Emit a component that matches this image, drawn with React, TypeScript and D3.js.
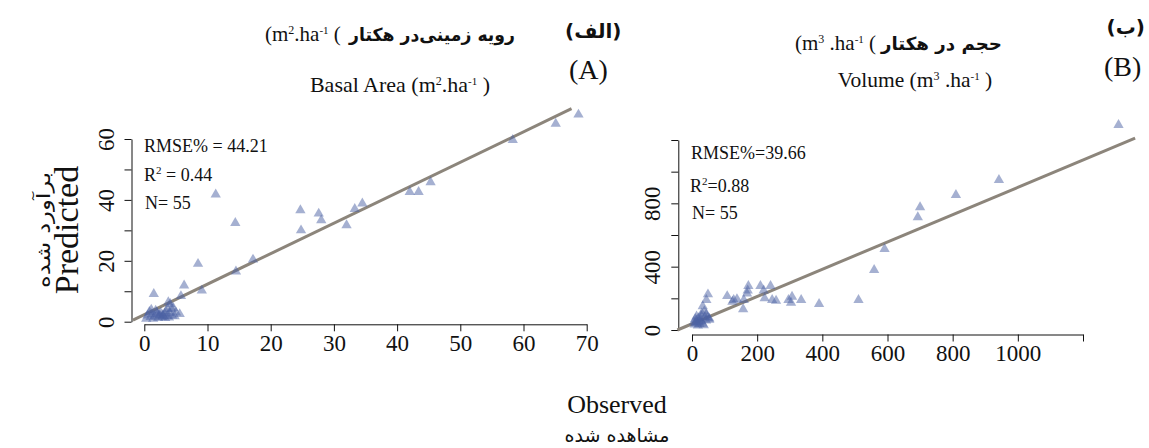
import React, { useEffect, useRef } from "react";
import * as d3 from "d3";

// [observed, predicted] pairs
const basalPoints: [number, number][] = [
  [68.7, 68.0], [65.1, 65.0], [58.3, 59.7], [45.3, 45.8], [43.4, 42.6], [42.0, 42.6],
  [34.5, 38.8], [33.3, 37.0], [32.0, 31.7], [28.0, 33.3], [27.6, 35.5], [24.7, 36.6],
  [24.8, 30.0], [17.2, 20.4], [14.5, 16.5], [14.4, 32.4], [11.3, 41.8], [9.1, 10.2],
  [8.5, 19.0], [6.3, 11.9], [5.8, 8.4], [5.6, 2.5], [1.5, 9.1], [3.8, 6.4], [4.3, 4.2],
  [0.8, 3.2], [1.2, 2.5], [1.6, 1.8], [2.0, 3.0], [2.4, 2.2], [2.8, 1.5], [3.2, 2.6],
  [3.6, 1.9], [4.0, 2.8], [4.6, 4.5], [1.0, 1.5], [1.8, 3.6], [2.2, 1.2], [2.6, 2.9],
  [3.0, 1.8], [3.4, 3.4], [3.9, 1.4], [4.4, 2.0], [5.0, 3.0], [0.5, 2.0], [1.4, 1.0],
  [2.1, 2.4], [2.9, 2.1], [3.3, 1.2], [3.7, 4.2], [4.8, 1.8], [1.1, 3.9], [2.5, 1.7],
  [4.1, 5.8], [0.3, 1.0],
];

const volumePoints: [number, number][] = [
  [1309, 1295], [942, 948], [810, 853], [700, 775], [693, 712], [591, 512], [559, 379],
  [511, 189], [390, 164], [335, 189], [307, 210], [296, 189], [304, 172], [246, 189],
  [258, 185], [241, 278], [210, 278], [220, 250], [223, 200], [173, 278], [171, 250],
  [169, 230], [157, 131], [159, 189], [128, 189], [108, 214], [124, 178], [138, 195],
  [49, 225], [44, 189], [33, 150], [38, 118], [44, 100], [40, 82], [53, 72], [28, 90],
  [20, 75], [13, 60], [16, 45], [23, 38], [28, 55], [10, 70], [6, 50], [18, 28],
  [33, 40], [26, 68], [43, 60], [8, 35], [36, 30], [14, 85], [48, 78], [22, 52],
  [30, 105], [53, 65], [12, 42],
];

// fitted lines: [x start, x end, slope, intercept]
const basalFit = [-1.8, 67.6, 1.0, 2.35];
const volumeFit = [-45, 1360, 0.862, 38.8];

const basalXTicks = [0, 10, 20, 30, 40, 50, 60, 70];
const basalYTicks = [0, 10, 20, 30, 40, 50, 60];
const basalYLabels = [0, 20, 40, 60];
const volumeXTicks = [0, 200, 400, 600, 800, 1000, 1200];
const volumeXLabels = [0, 200, 400, 600, 800, 1000];
const volumeYTicks = [0, 200, 400, 600, 800, 1000, 1200];
const volumeYLabels = [0, 400, 800];

const serif = "'Liberation Serif', 'Times New Roman', serif";
const persian = "'DejaVu Sans', 'Noto Sans', sans-serif";

const Panels = () => {
  const ref = useRef<SVGSVGElement>(null);

  useEffect(() => {
    const svg = d3.select(ref.current);
    svg.selectAll("*").remove();

    // draws one scatter panel
    function panel(opts: any) {
      const { points, fit, xTicks, xLabels, yTicks, yLabels, x, y, yAxisX, xAxisY, stats } = opts;
      const g = svg.append("g");

      const xAxis = d3.axisBottom(x).tickValues(xTicks).tickSize(7).tickSizeOuter(0).tickPadding(3)
        .tickFormat((d: any) => (xLabels.includes(d) ? String(d) : ""));
      const xg = g.append("g").attr("transform", `translate(0,${xAxisY})`).call(xAxis);
      xg.selectAll("text")
        .style("font-family", serif).style("font-size", "23px").attr("fill", "#111");

      const yAxis = d3.axisLeft(y).tickValues(yTicks).tickSize(7).tickSizeOuter(0)
        .tickFormat((d: any) => (yLabels.includes(d) ? String(d) : ""));
      const yg = g.append("g").attr("transform", `translate(${yAxisX},0)`).call(yAxis);
      yg.selectAll("text")
        .attr("x", null).attr("dy", null)
        .attr("transform", "translate(-18,0) rotate(-90)")
        .attr("text-anchor", "middle")
        .style("font-family", serif).style("font-size", "23px")
        .attr("fill", "#111");
      g.selectAll(".domain, .tick line").attr("stroke", "#111");

      g.append("line")
        .attr("x1", x(fit[0])).attr("y1", y(fit[2] * fit[0] + fit[3]))
        .attr("x2", x(fit[1])).attr("y2", y(fit[2] * fit[1] + fit[3]))
        .attr("stroke", "#8c857b").attr("stroke-width", 3);

      const tri = d3.symbol(d3.symbolTriangle, 46);
      g.append("g").selectAll("path").data(points).join("path")
        .attr("d", tri)
        .attr("transform", (d: any) => `translate(${x(d[0])},${y(d[1])})`)
        .attr("fill", "#4b62a3").attr("fill-opacity", 0.5);

      stats.forEach((s: any) => {
        const t = g.append("text").attr("x", s.x).attr("y", s.y)
          .attr("font-family", serif).attr("font-size", 18).attr("fill", "#111");
        t.append("tspan").text(s.pre);
        if (s.sup) {
          t.append("tspan").attr("dy", -7).attr("font-size", 11).text(s.sup);
          t.append("tspan").attr("dy", 7).text(s.post);
        }
      });
    }

    panel({
      points: basalPoints, fit: basalFit,
      xTicks: basalXTicks, xLabels: basalXTicks, yTicks: basalYTicks, yLabels: basalYLabels,
      x: d3.scaleLinear().domain([0, 70]).range([144.3, 586.7]),
      y: d3.scaleLinear().domain([0, 60]).range([321.7, 139]),
      yAxisX: 131.5, xAxisY: 324.3,
      stats: [
        { x: 144, y: 152, pre: "RMSE% = 44.21" },
        { x: 144, y: 181, pre: "R", sup: "2", post: " = 0.44" },
        { x: 145, y: 209, pre: "N= 55" },
      ],
    });

    panel({
      points: volumePoints, fit: volumeFit,
      xTicks: volumeXTicks, xLabels: volumeXLabels, yTicks: volumeYTicks, yLabels: volumeYLabels,
      x: d3.scaleLinear().domain([0, 1200]).range([692, 1083]),
      y: d3.scaleLinear().domain([0, 1200]).range([330, 140]),
      yAxisX: 678.3, xAxisY: 334.5,
      stats: [
        { x: 691, y: 159, pre: "RMSE%=39.66" },
        { x: 690, y: 192, pre: "R", sup: "2", post: "=0.88" },
        { x: 692, y: 219, pre: "N= 55" },
      ],
    });
  }, []);

  return (
    <svg ref={ref} width={1149} height={448} style={{ position: "absolute", left: 0, top: 0, background: "#fff" }} />
  );
};

export default function App() {
  return (
    <div>
      <Panels />
      <svg width={1149} height={448} style={{ position: "absolute", left: 0, top: 0, pointerEvents: "none" }}>
        <g fill="#111" fontFamily={serif}>
          {/* panel A titles */}
          <text x={565} y={38} fontSize={20} fontFamily={persian} fontWeight="bold">(الف)</text>
          <text x={569} y={79} fontSize={28}>(A)</text>
          <text x={265} y={41} fontSize={21}>
            (m<tspan dy={-7} fontSize={12}>2</tspan><tspan dy={7}>.ha</tspan>
            <tspan dy={-7} fontSize={11}>-1</tspan><tspan dy={7}> (</tspan>
          </text>
          <text x={349} y={41} fontSize={18} fontFamily={persian} fontWeight="bold"
            textLength={166} lengthAdjust="spacingAndGlyphs">رویه زمینی‌در هکتار</text>
          <text x={400} y={92} fontSize={22} textAnchor="middle">
            Basal Area (m<tspan dy={-7} fontSize={12}>2</tspan><tspan dy={7}>.ha</tspan>
            <tspan dy={-7} fontSize={11}>-1</tspan><tspan dy={7}> )</tspan>
          </text>

          {/* panel B titles */}
          <text x={1145} y={34} fontSize={20} fontFamily={persian} fontWeight="bold" textAnchor="end">(ب)</text>
          <text x={1104} y={76} fontSize={28}>(B)</text>
          <text x={795} y={50} fontSize={21}>
            (m<tspan dy={-7} fontSize={12}>3</tspan><tspan dy={7}> .ha</tspan>
            <tspan dy={-7} fontSize={11}>-1</tspan><tspan dy={7}> (</tspan>
          </text>
          <text x={881} y={50} fontSize={18} fontFamily={persian} fontWeight="bold"
            textLength={121} lengthAdjust="spacingAndGlyphs">حجم در هکتار</text>
          <text x={915} y={87} fontSize={21.5} textAnchor="middle">
            Volume (m<tspan dy={-7} fontSize={12}>3</tspan><tspan dy={7}> .ha</tspan>
            <tspan dy={-7} fontSize={11}>-1</tspan><tspan dy={7}> )</tspan>
          </text>

          {/* shared axis titles */}
          <text x={617} y={413} fontSize={26} textAnchor="middle">Observed</text>
          <text x={617} y={442} fontSize={19} fontFamily={persian} textAnchor="middle">مشاهده شده</text>
          <text transform="translate(78,230) rotate(-90)" fontSize={34} textAnchor="middle">Predicted</text>
          <text transform="translate(50,230) rotate(-90)" fontSize={19} fontFamily={persian} textAnchor="middle"
            textLength={116} lengthAdjust="spacingAndGlyphs">برآورد شده</text>
        </g>
      </svg>
    </div>
  );
}
